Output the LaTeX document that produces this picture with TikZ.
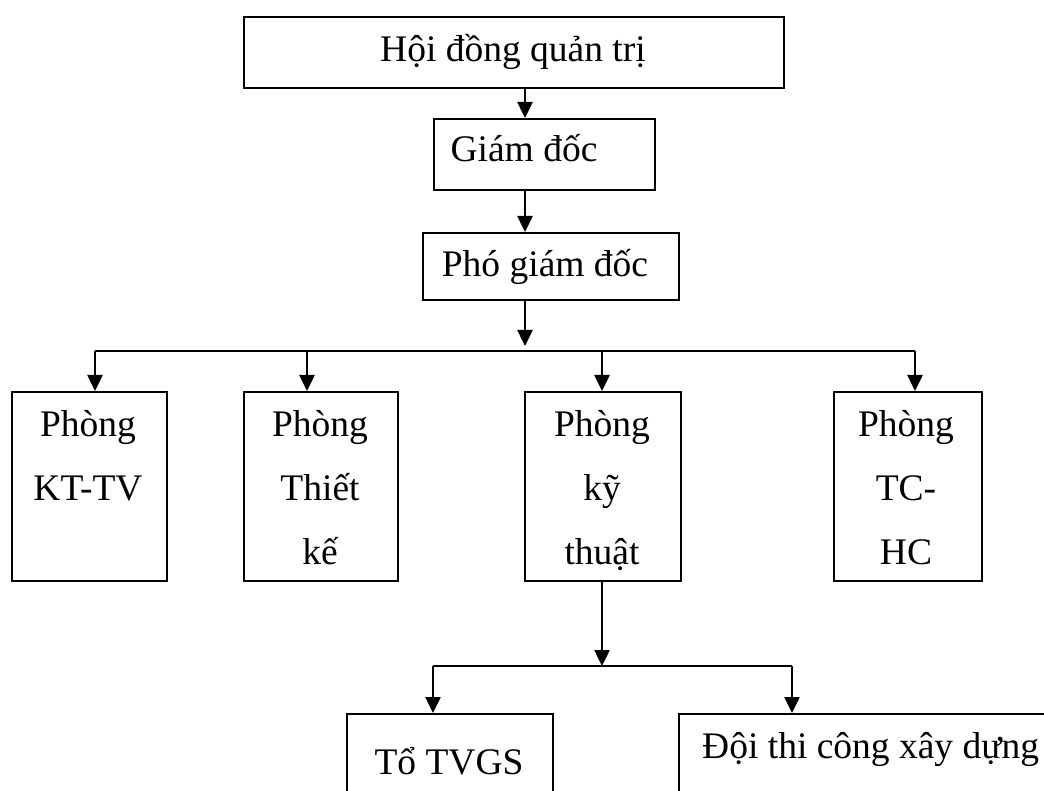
\documentclass[tikz,border=0pt]{standalone}
\usepackage{fontspec}
\setmainfont{Liberation Serif}
\usetikzlibrary{arrows.meta}
\begin{document}
\begin{tikzpicture}[x=1pt,y=-1pt,
  box/.style={draw, line width=2.2pt, anchor=north west, inner sep=0pt},
  lbl/.style={font=\fontsize{37.5}{64}\selectfont, inner sep=0pt},
  multi/.style={lbl, align=center, anchor=north},
  link/.style={line width=2.5pt},
  arr/.style={link, -{Triangle[width=15pt,length=16pt]}}]
\clip (0,0) rectangle (1044,791);
\fill[white] (0,0) rectangle (1044,791);

% boxes
\node[box, minimum width=540pt, minimum height=71pt] (hdqt) at (243,16) {};
\node[box, minimum width=221pt, minimum height=71pt] (gd) at (433,118) {};
\node[box, minimum width=256pt, minimum height=67pt] (pgd) at (422,232) {};
\node[box, minimum width=155pt, minimum height=189pt] (kttv) at (11,391) {};
\node[box, minimum width=154pt, minimum height=189pt] (tk) at (243,391) {};
\node[box, minimum width=156pt, minimum height=189pt] (kyt) at (524,391) {};
\node[box, minimum width=148pt, minimum height=189pt] (tchc) at (833,391) {};
\node[box, minimum width=206pt, minimum height=110pt] (tvgs) at (346,713) {};
\node[box, minimum width=400pt, minimum height=110pt] (doi) at (678,713) {};

% labels
\node[lbl, anchor=base] (hdqtT) at (513,62) {Hội đồng quản trị};
\node[lbl, anchor=base] (gdT) at (524,162) {Giám đốc};
\node[lbl, anchor=base] (pgdT) at (545,277) {Phó giám đốc};
\node[multi] (kttvT) at (88,410) {Phòng\\KT-TV};
\node[multi] (tkT) at (320,410) {Phòng\\Thiết\\kế};
\node[multi] (kytT) at (602,410) {Phòng\\kỹ\\thuật};
\node[multi] (tchcT) at (906,410) {Phòng\\TC-\\HC};
\node[lbl, anchor=base] (tvgsT) at (449,774) {Tổ TVGS};
\node[lbl, anchor=base west] (doiT) at (702,758) {Đội thi công xây dựng};

% junction points of the branches
\coordinate (spine) at (525,351);
\coordinate (branch) at (602,666);

% top chain
\draw[arr] (hdqt.south -| spine) -- (gd.north -| spine);
\draw[arr] (gd.south -| spine) -- (pgd.north -| spine);
\draw[arr] (pgd.south -| spine) -- ([yshift=5pt]spine);

% departments
\draw[link] (95,351) -- (915,351);
\draw[arr] (95,351) -- (kttv.north -| 95,0);
\draw[arr] (307,351) -- (tk.north -| 307,0);
\draw[arr] (602,351) -- (kyt.north -| 602,0);
\draw[arr] (915,351) -- (tchc.north -| 915,0);

% technical department units
\draw[arr] (kyt.south -| branch) -- (branch);
\draw[link] (433,666) -- (792,666);
\draw[arr] (433,666) -- (tvgs.north -| 433,0);
\draw[arr] (792,666) -- (doi.north -| 792,0);
\end{tikzpicture}
\end{document}
